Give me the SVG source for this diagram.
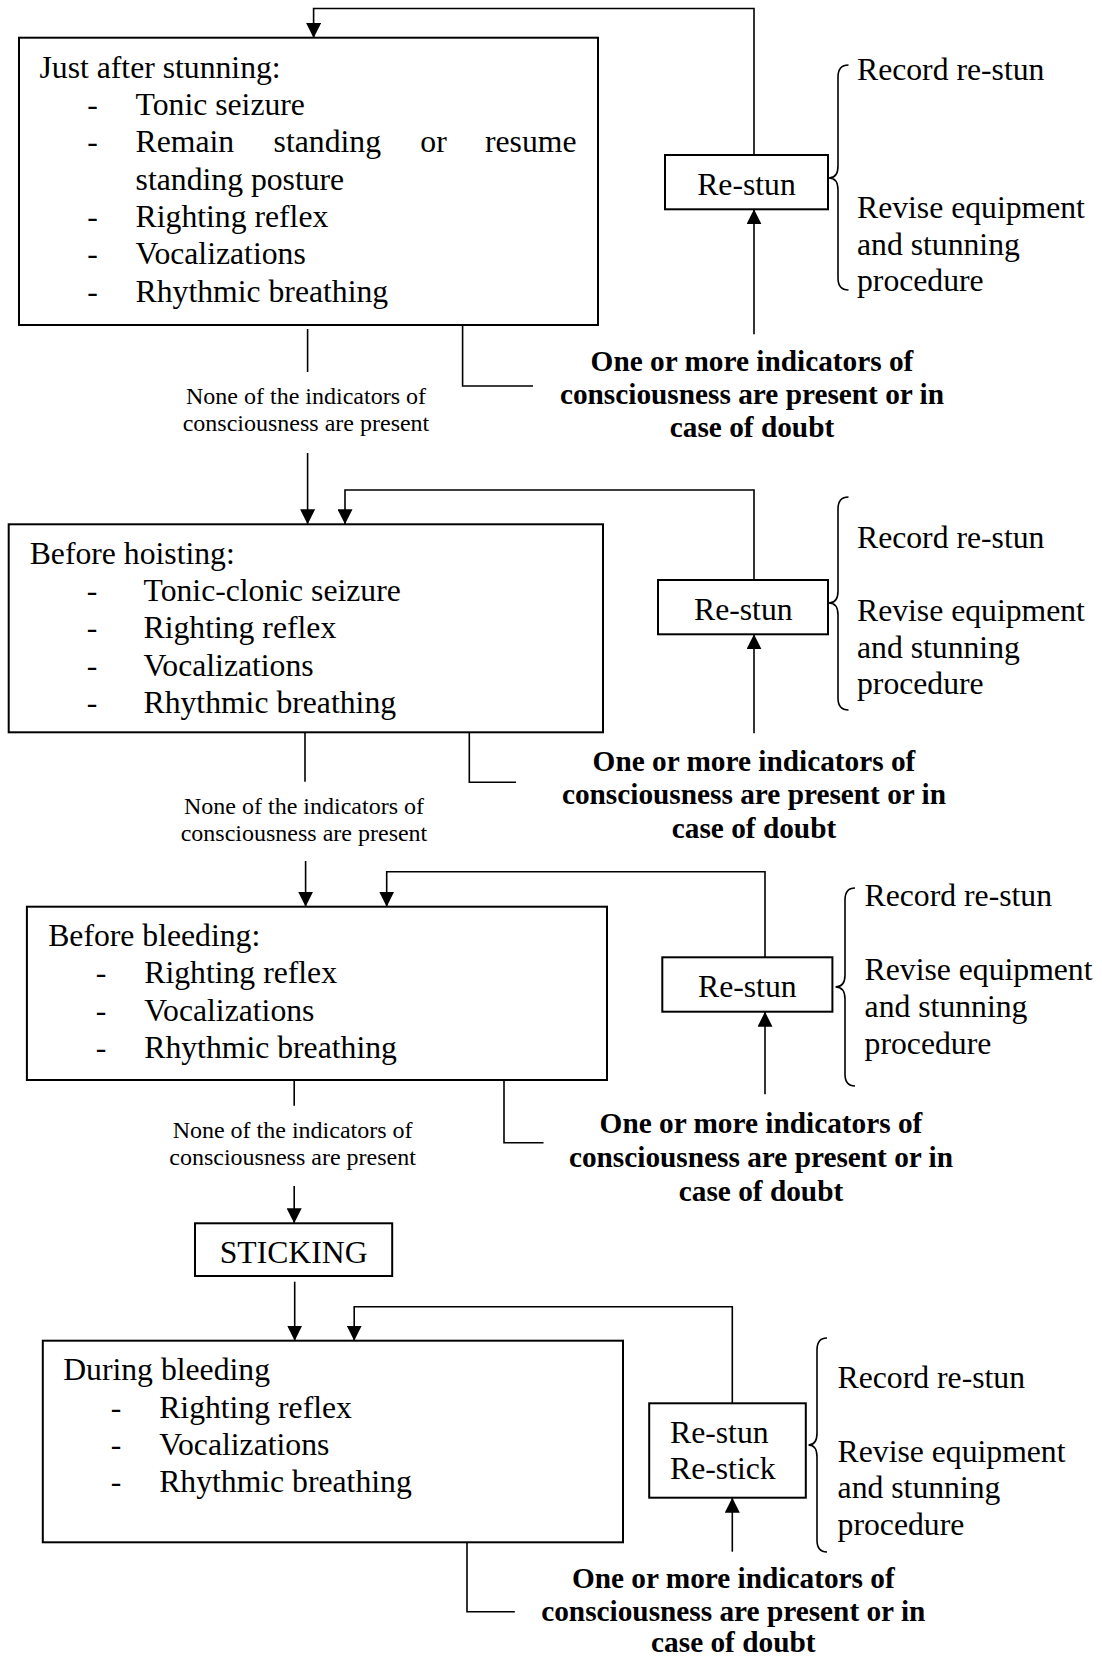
<svg xmlns="http://www.w3.org/2000/svg" width="1102" height="1658" viewBox="0 0 1102 1658">
<style>
text{font-family:"Liberation Serif","Times New Roman",serif;fill:#000}
.t{font-size:31.7px}
.s{font-size:24px}
.b{font-size:29.3px;font-weight:bold}
.m{text-anchor:middle}
.box{fill:#fff;stroke:#000;stroke-width:2}
.ln{fill:none;stroke:#000;stroke-width:1.6}
.br{fill:none;stroke:#000;stroke-width:1.6}
</style>
<defs>
<marker id="ah" viewBox="0 0 15 15" refX="15" refY="7.5" markerWidth="15" markerHeight="15" markerUnits="userSpaceOnUse" orient="auto">
<path d="M0,0 L15,7.5 L0,15 z" fill="#000"/>
</marker>
</defs>
<rect width="1102" height="1658" fill="#fff"/>

<g id="connectors">
<path class="ln" d="M754,155 V8.5 H313.6 V38" marker-end="url(#ah)"/>
<path class="ln" d="M754,334.3 V209.3" marker-end="url(#ah)"/>
<path class="ln" d="M307.6,329 V372"/>
<path class="ln" d="M307.6,453 V524.3" marker-end="url(#ah)"/>
<path class="ln" d="M462.6,325 V386 H533"/>

<path class="ln" d="M754,580 V490 H345 V524.3" marker-end="url(#ah)"/>
<path class="ln" d="M754,733.3 V634.3" marker-end="url(#ah)"/>
<path class="ln" d="M305,732.3 V781.7"/>
<path class="ln" d="M469.3,732.3 V782.3 H516"/>

<path class="ln" d="M305.6,861 V906.7" marker-end="url(#ah)"/>
<path class="ln" d="M765,957.3 V871.7 H386.7 V906.7" marker-end="url(#ah)"/>
<path class="ln" d="M765,1094.3 V1011.7" marker-end="url(#ah)"/>
<path class="ln" d="M294.2,1080 V1105.7"/>
<path class="ln" d="M294.2,1186 V1223.3" marker-end="url(#ah)"/>
<path class="ln" d="M504,1080 V1142.7 H543.5"/>

<path class="ln" d="M294.7,1281.7 V1340.7" marker-end="url(#ah)"/>
<path class="ln" d="M732.3,1403.3 V1306.7 H354.2 V1340.7" marker-end="url(#ah)"/>
<path class="ln" d="M732.3,1551.7 V1497.7" marker-end="url(#ah)"/>
<path class="ln" d="M467,1542.3 V1611.7 H514.8"/>
</g>

<g id="box-just-after-stunning">
<rect class="box" x="19" y="37.7" width="579" height="287.3"/>
<text class="t" x="39.5" y="77.7">Just after stunning:</text>
<text class="t m" x="92.5" y="115">-</text>
<text class="t" x="135.6" y="115">Tonic seizure</text>
<text class="t m" x="92.5" y="152.3">-</text>
<text class="t" x="135.6" y="152.3">Remain</text>
<text class="t" x="273.6" y="152.3">standing</text>
<text class="t" x="420.3" y="152.3">or</text>
<text class="t" x="576.5" y="152.3" text-anchor="end">resume</text>
<text class="t" x="135.6" y="189.6">standing posture</text>
<text class="t m" x="92.5" y="226.9">-</text>
<text class="t" x="135.6" y="226.9">Righting reflex</text>
<text class="t m" x="92.5" y="264.2">-</text>
<text class="t" x="135.6" y="264.2">Vocalizations</text>
<text class="t m" x="92.5" y="301.5">-</text>
<text class="t" x="135.6" y="301.5">Rhythmic breathing</text>
</g>

<g id="label-none-1">
<text class="s m" x="306" y="404">None of the indicators of</text>
<text class="s m" x="306" y="431">consciousness are present</text>
</g>

<g id="restun-1">
<rect class="box" x="665" y="155" width="163" height="54.3"/>
<text class="t m" x="746.5" y="195">Re-stun</text>
</g>
<g id="actions-1">
<path class="br" d="M848.5,65 Q838,65 838,77 L838,166 Q838,178 829,178 Q838,178 838,190 L838,278 Q838,290 848.5,290"/>
<text class="t" x="857" y="80">Record re-stun</text>
<text class="t" x="857" y="218.3">Revise equipment</text>
<text class="t" x="857" y="254.5">and stunning</text>
<text class="t" x="857" y="290.5">procedure</text>
</g>
<g id="label-one-1">
<text class="b m" x="752" y="371">One or more indicators of</text>
<text class="b m" x="752" y="404">consciousness are present or in</text>
<text class="b m" x="752" y="437">case of doubt</text>
</g>

<g id="box-before-hoisting">
<rect class="box" x="8.7" y="524.3" width="594.3" height="208"/>
<text class="t" x="29.7" y="564">Before hoisting:</text>
<text class="t m" x="92" y="601">-</text>
<text class="t" x="143.5" y="601">Tonic-clonic seizure</text>
<text class="t m" x="92" y="638">-</text>
<text class="t" x="143.5" y="638">Righting reflex</text>
<text class="t m" x="92" y="676">-</text>
<text class="t" x="143.5" y="676">Vocalizations</text>
<text class="t m" x="92" y="713">-</text>
<text class="t" x="143.5" y="713">Rhythmic breathing</text>
</g>

<g id="label-none-2">
<text class="s m" x="304" y="814">None of the indicators of</text>
<text class="s m" x="304" y="840.5">consciousness are present</text>
</g>

<g id="restun-2">
<rect class="box" x="658" y="580" width="170" height="54.3"/>
<text class="t m" x="743.3" y="619.5">Re-stun</text>
</g>
<g id="actions-2">
<path class="br" d="M848.5,497 Q838,497 838,509 L838,591 Q838,603 829,603 Q838,603 838,615 L838,698 Q838,710 848.5,710"/>
<text class="t" x="857" y="548">Record re-stun</text>
<text class="t" x="857" y="621">Revise equipment</text>
<text class="t" x="857" y="657.5">and stunning</text>
<text class="t" x="857" y="694">procedure</text>
</g>
<g id="label-one-2">
<text class="b m" x="754" y="771">One or more indicators of</text>
<text class="b m" x="754" y="804">consciousness are present or in</text>
<text class="b m" x="754" y="838">case of doubt</text>
</g>

<g id="box-before-bleeding">
<rect class="box" x="26.9" y="906.7" width="580.1" height="173.3"/>
<text class="t" x="48.2" y="946">Before bleeding:</text>
<text class="t m" x="101" y="983">-</text>
<text class="t" x="144.3" y="983">Righting reflex</text>
<text class="t m" x="101" y="1021">-</text>
<text class="t" x="144.3" y="1021">Vocalizations</text>
<text class="t m" x="101" y="1058">-</text>
<text class="t" x="144.3" y="1058">Rhythmic breathing</text>
</g>

<g id="label-none-3">
<text class="s m" x="292.6" y="1138">None of the indicators of</text>
<text class="s m" x="292.6" y="1165">consciousness are present</text>
</g>

<g id="restun-3">
<rect class="box" x="662.3" y="957.3" width="170.1" height="54.4"/>
<text class="t m" x="747.3" y="997">Re-stun</text>
</g>
<g id="actions-3">
<path class="br" d="M855,888 Q845,888 845,900 L845,975 Q845,987 835.5,987 Q845,987 845,999 L845,1074 Q845,1086 855,1086"/>
<text class="t" x="864.6" y="906">Record re-stun</text>
<text class="t" x="864.6" y="979.5">Revise equipment</text>
<text class="t" x="864.6" y="1016.5">and stunning</text>
<text class="t" x="864.6" y="1053.5">procedure</text>
</g>
<g id="label-one-3">
<text class="b m" x="761" y="1132.5">One or more indicators of</text>
<text class="b m" x="761" y="1166.5">consciousness are present or in</text>
<text class="b m" x="761" y="1200.5">case of doubt</text>
</g>

<g id="sticking">
<rect class="box" x="195" y="1223.3" width="197.2" height="52.7"/>
<text class="t m" x="293.6" y="1263.3">STICKING</text>
</g>

<g id="box-during-bleeding">
<rect class="box" x="42.8" y="1340.7" width="580.2" height="201.6"/>
<text class="t" x="63.2" y="1380">During bleeding</text>
<text class="t m" x="116" y="1417.5">-</text>
<text class="t" x="159.2" y="1417.5">Righting reflex</text>
<text class="t m" x="116" y="1454.5">-</text>
<text class="t" x="159.2" y="1454.5">Vocalizations</text>
<text class="t m" x="116" y="1492">-</text>
<text class="t" x="159.2" y="1492">Rhythmic breathing</text>
</g>

<g id="restun-restick">
<rect class="box" x="649.2" y="1403.3" width="156.6" height="94.4"/>
<text class="t" x="670" y="1442.5">Re-stun</text>
<text class="t" x="670" y="1479">Re-stick</text>
</g>
<g id="actions-4">
<path class="br" d="M827,1338 Q817,1338 817,1350 L817,1433 Q817,1445 808.5,1445 Q817,1445 817,1457 L817,1540 Q817,1552 827,1552"/>
<text class="t" x="837.6" y="1387.5">Record re-stun</text>
<text class="t" x="837.6" y="1461.5">Revise equipment</text>
<text class="t" x="837.6" y="1498">and stunning</text>
<text class="t" x="837.6" y="1535">procedure</text>
</g>
<g id="label-one-4">
<text class="b m" x="733.3" y="1588">One or more indicators of</text>
<text class="b m" x="733.3" y="1621">consciousness are present or in</text>
<text class="b m" x="733.3" y="1651.5">case of doubt</text>
</g>
</svg>
